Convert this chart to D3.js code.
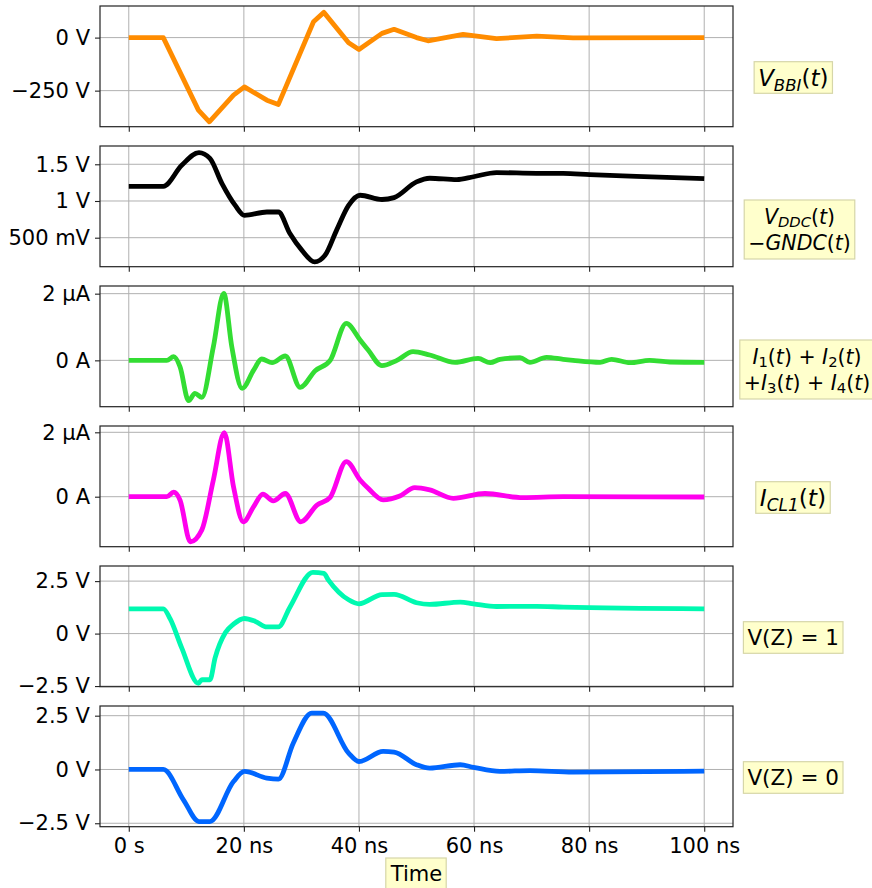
<!DOCTYPE html>
<html><head><meta charset="utf-8">
<script src="https://cdn.jsdelivr.net/npm/d3@7"></script>
<style>
html,body{margin:0;padding:0;background:#fff;}
svg text{font-family:"DejaVu Sans",sans-serif;}
</style></head>
<body><svg id="c" width="872" height="888"></svg>
<script>
// ---- data ----
const xTicks = [0, 20, 40, 60, 80, 100];
const xTickLabels = ["0 s", "20 ns", "40 ns", "60 ns", "80 ns", "100 ns"];

const tBBI = [0, 6, 12.1, 14, 18.2, 20.1, 24, 26, 32.1, 33.9, 38.2, 40, 44, 46.1, 50, 52, 58.1, 63.9, 70.9, 77.2, 100];
const vBBI = [0, 0, -342, -397, -271, -232, -295, -315, 75, 119, -24, -56, 20, 39, 0, -15, 15, -5, 7, -1, 0];

const tDDC = [0, 6, 9.2, 12.2, 14.1, 16.2, 18.5, 20.1, 24, 26, 28, 30.1, 32.3, 34.1, 36.1, 38.2, 40.2, 44, 46.1, 50, 52.3, 57, 59.9, 63.9, 70.9, 75.5, 80.1, 88.2, 100];
const vDDC = [1.2, 1.2, 1.486, 1.66, 1.58, 1.237, 0.94, 0.805, 0.85, 0.85, 0.556, 0.328, 0.17, 0.26, 0.6, 0.94, 1.078, 1.02, 1.046, 1.26, 1.31, 1.29, 1.33, 1.387, 1.377, 1.377, 1.36, 1.336, 1.305];

const tSum = [0, 6.6, 7.8, 8.9, 10.4, 11.5, 12.7, 14.7, 16.5, 17.9, 19.7, 21.7, 23.1, 24.9, 27.2, 29.8, 32.4, 35, 37.8, 40.2, 41.6, 44, 46.6, 49.4, 52.3, 56.7, 60.7, 62.8, 64.5, 68, 69.7, 72.6, 75.5, 77.2, 81.9, 83.9, 87.1, 90.5, 94, 100];
const iSum = [0, 0, 0.11, -0.19, -1.21, -0.99, -1.11, 0.41, 2.01, 0.41, -0.84, -0.29, 0.04, -0.07, 0.13, -0.81, -0.31, 0, 1.11, 0.61, 0.31, -0.16, 0, 0.26, 0.16, -0.06, 0.06, -0.07, 0.03, 0.08, -0.06, 0.09, 0.03, 0, -0.06, 0.03, -0.07, 0, -0.05, -0.06];

const tCL1 = [0, 6.6, 7.8, 8.9, 10.7, 12.7, 14.7, 16.6, 18.2, 19.9, 21.7, 23.3, 25.1, 27.2, 29.9, 32.7, 35, 37.8, 40.2, 41.6, 44.2, 47.1, 49.7, 52.3, 56.4, 61.9, 68.5, 75.5, 100];
const iCL1 = [0, 0, 0.14, -0.1, -1.4, -1.03, 0.52, 1.99, 0.31, -0.78, -0.31, 0.08, -0.13, 0.1, -0.78, -0.26, -0.02, 1.09, 0.52, 0.26, -0.1, 0.02, 0.28, 0.21, -0.05, 0.1, -0.03, 0, -0.01];

const tZ1 = [0, 6, 7.2, 9.2, 12.1, 12.7, 14.1, 15, 16.8, 18.2, 20.1, 22, 24, 26, 28, 32, 33.9, 34.7, 38.2, 40, 44, 46.1, 50, 52.3, 57.6, 59.9, 63.9, 70.9, 75.5, 100];
const vZ1 = [1.18, 1.18, 0.7, -0.68, -2.37, -2.2, -2.2, -1.16, 0.05, 0.45, 0.72, 0.58, 0.32, 0.32, 1.26, 2.92, 2.87, 2.55, 1.61, 1.42, 1.86, 1.87, 1.47, 1.39, 1.5, 1.42, 1.29, 1.3, 1.26, 1.18];

const tZ0 = [0, 6, 9.5, 12.2, 14.1, 18.2, 20.1, 24, 26, 28.6, 31.8, 33.8, 38.2, 40, 44.2, 46.1, 50, 52.3, 57.6, 59.9, 64.5, 69.7, 77.2, 100];
const vZ0 = [0, 0, -1.41, -2.42, -2.42, -0.56, -0.09, -0.4, -0.45, 1.23, 2.62, 2.62, 0.76, 0.37, 0.84, 0.81, 0.22, 0.06, 0.22, 0.1, -0.09, -0.05, -0.12, -0.08];

const yTicksBBI = [0, -250], yTickLabelsBBI = ["0 V", "\u2212250 V"];
const yTicksDDC = [0.5, 1, 1.5], yTickLabelsDDC = ["500 mV", "1 V", "1.5 V"];
const yTicksI = [0, 2], yTickLabelsI = ["0 A", "2 \u00b5A"];
const yTicksZ = [-2.5, 0, 2.5], yTickLabelsZ = ["\u22122.5 V", "0 V", "2.5 V"];

const colors = ["#ff8c00", "#000000", "#33dd33", "#ff00ee", "#00f9b0", "#0066ff"];

// ---- layout ----
const svg = d3.select("#c");
const left = 100, right = 733;
const x = d3.scaleLinear().domain([-5, 105]).range([left, right]);

const panels = [
  {t: tBBI, v: vBBI, dom: [-420, 149], ticks: yTicksBBI, labels: yTickLabelsBBI, curve: d3.curveLinear,
   lab: [[{s:"V",i:1},{s:"BBI",i:1,sub:1},{s:"("},{s:"t",i:1},{s:")"}]], lx: 793.3, ly: 77.5, lfs: 23},
  {t: tDDC, v: vDDC, dom: [0.105, 1.749], ticks: yTicksDDC, labels: yTickLabelsDDC, curve: d3.curveMonotoneX,
   lab: [[{s:"V",i:1},{s:"DDC",i:1,sub:1},{s:"("},{s:"t",i:1},{s:")"}],[{s:"\u2212"},{s:"GNDC",i:1},{s:"("},{s:"t",i:1},{s:")"}]], lx: 799.5, ly: 229.5, lfs: 20.5},
  {t: tSum, v: iSum, dom: [-1.39, 2.23], ticks: yTicksI, labels: yTickLabelsI, curve: d3.curveMonotoneX,
   lab: [[{s:"I",i:1},{s:"1",sub:1},{s:"("},{s:"t",i:1},{s:") + "},{s:"I",i:1},{s:"2",sub:1},{s:"("},{s:"t",i:1},{s:")"}],
         [{s:"+"},{s:"I",i:1},{s:"3",sub:1},{s:"("},{s:"t",i:1},{s:") + "},{s:"I",i:1},{s:"4",sub:1},{s:"("},{s:"t",i:1},{s:")"}]], lx: 807, ly: 369.5, lfs: 20.5},
  {t: tCL1, v: iCL1, dom: [-1.553, 2.196], ticks: yTicksI, labels: yTickLabelsI, curve: d3.curveMonotoneX,
   lab: [[{s:"I",i:1},{s:"CL1",i:1,sub:1},{s:"("},{s:"t",i:1},{s:")"}]], lx: 793, ly: 497.5, lfs: 23.5},
  {t: tZ1, v: vZ1, dom: [-2.53, 3.22], ticks: yTicksZ, labels: yTickLabelsZ, curve: d3.curveMonotoneX,
   lab: [[{s:"V(Z) = 1"}]], lx: 793.2, ly: 637.5, lfs: 21.5},
  {t: tZ0, v: vZ0, dom: [-2.66, 2.95], ticks: yTicksZ, labels: yTickLabelsZ, curve: d3.curveMonotoneX,
   lab: [[{s:"V(Z) = 0"}]], lx: 793.2, ly: 777.5, lfs: 21.5}
];

const top0 = 6, ph = 120.7, step = 140;
const fs = 21;

panels.forEach((p, k) => {
  const y0 = top0 + k * step, y1 = y0 + ph;
  const y = d3.scaleLinear().domain(p.dom).range([y1, y0]);
  const g = svg.append("g");
  // grid
  g.selectAll(".gx").data(xTicks).join("line")
    .attr("x1", d => x(d)).attr("x2", d => x(d)).attr("y1", y0).attr("y2", y1)
    .attr("stroke", "#b0b0b0").attr("stroke-width", 1);
  g.selectAll(".gy").data(p.ticks).join("line")
    .attr("x1", left).attr("x2", right).attr("y1", d => y(d)).attr("y2", d => y(d))
    .attr("stroke", "#b0b0b0").attr("stroke-width", 1);
  // line
  const data = p.t.map((t, i) => [t, p.v[i]]);
  g.append("path").datum(data)
    .attr("fill", "none").attr("stroke", colors[k]).attr("stroke-width", 4.8)
    .attr("stroke-linejoin", "round").attr("stroke-linecap", "butt")
    .attr("d", d3.line().x(d => x(d[0])).y(d => y(d[1])).curve(p.curve));
  // axes
  const ya = d3.axisLeft(y).tickValues(p.ticks).tickFormat((d, i) => p.labels[i]).tickSize(5).tickPadding(5);
  const ay = g.append("g").attr("transform", `translate(${left},0)`).call(ya);
  const xa = d3.axisBottom(x).tickValues(xTicks).tickFormat((d, i) => k === 5 ? xTickLabels[i] : "").tickSize(5).tickPadding(6);
  const ax = g.append("g").attr("transform", `translate(0,${y1})`).call(xa);
  [ay, ax].forEach(a => {
    a.select(".domain").remove();
    a.selectAll("line").attr("stroke", "#222").attr("stroke-width", 1.1);
    a.selectAll("text").attr("font-size", fs).attr("fill", "#000")
      .style("font-family", '"DejaVu Sans", sans-serif');
  });
  // frame
  g.append("rect").attr("x", left).attr("y", y0).attr("width", right - left).attr("height", ph)
    .attr("fill", "none").attr("stroke", "#222").attr("stroke-width", 1.2);

  // right label (one text element, one line tspan per row)
  const lg = svg.append("g");
  const nl = p.lab.length, lh = 26;
  const tx = lg.append("text").attr("text-anchor", "middle").attr("font-size", p.lfs);
  p.lab.forEach((line, li) => {
    const row = tx.append("tspan").attr("x", p.lx)
      .attr("y", p.ly + (li - (nl - 1) / 2) * lh + p.lfs * 0.36);
    line.forEach(seg => {
      const ts = row.append("tspan").text(seg.s);
      if (seg.i) ts.attr("font-style", "italic");
      if (seg.sub) ts.attr("font-size", p.lfs * 0.72).attr("baseline-shift", nl > 1 ? "-18%" : "-28%");
    });
  });
  const b = tx.node().getBBox();
  const pad = 4;
  const bh = nl === 1 ? 31.6 : 59;
  lg.insert("rect", "text").attr("x", b.x - pad).attr("y", p.ly - bh / 2).attr("width", b.width + 2 * pad).attr("height", bh)
    .attr("fill", "#ffffcc").attr("stroke", "#d6d6a8").attr("stroke-width", 1.2);
});

// x-axis title
const tg = svg.append("g");
const tt = tg.append("text").attr("x", 416.5).attr("y", 874).attr("text-anchor", "middle")
  .attr("dominant-baseline", "central").attr("font-size", fs).text("Time");
const tb = tt.node().getBBox();
tg.insert("rect", "text").attr("x", tb.x - 4).attr("y", 858).attr("width", tb.width + 8).attr("height", 34)
  .attr("fill", "#ffffcc").attr("stroke", "#d6d6a8").attr("stroke-width", 1.2);
</script></body></html>
